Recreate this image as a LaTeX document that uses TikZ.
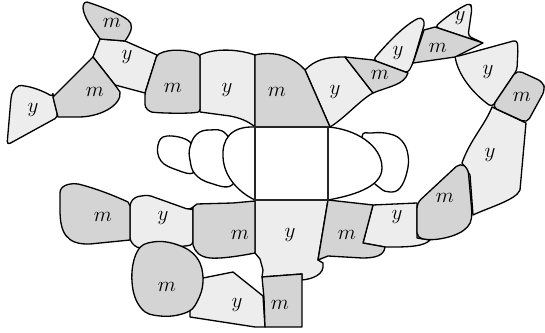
\documentclass[tikz,border=0pt]{standalone}
\usepackage{tikz}
\definecolor{mgray}{HTML}{D4D4D4}
\definecolor{ygray}{HTML}{EDEDED}

\begin{document}
\begin{tikzpicture}[
        x=0.02cm, y=-0.02cm,
        font=\fontsize{11.5}{13}\selectfont,
        part/.style={
            draw=black,
            line width=0.75pt,
            line join=round
        },
        mpart/.style={part, fill=mgray},
        ypart/.style={part, fill=ygray},
        hole/.style={part, fill=white},
        core/.style={draw=black!85, line width=0.8pt, fill=white}
    ]
        \useasboundingbox (0,0) rectangle (545,333);

        % light pieces
        \draw[ypart] (100,39) -- (125,41) -- (157,55) -- (145,93) -- (115,85) -- (93,57) -- cycle;
        \draw[ypart, rounded corners=2pt] (53,97) -- (58,117) -- (7,145) -- (11,98) .. controls (13,89) and (18,85) .. (25,86) .. controls (35,88) and (45,92) .. (53,97) -- cycle;
        \draw[ypart] (200,55) .. controls (212,49) and (235,48) .. (255,55) -- (255,127) .. controls (248,121) and (240,118) .. (230,116) -- (200,112) -- cycle;
        \draw[ypart] (305,70) .. controls (315,60) and (325,57) .. (345,57) -- (373,93) .. controls (360,100) and (345,118) .. (330,127) -- cycle;
        \draw[ypart, rounded corners=2pt] (373,60) .. controls (390,40) and (405,25) .. (421,17) -- (425,22) -- (413,63) -- (408,73) -- cycle;
        \draw[ypart, rounded corners=2pt] (435,27) .. controls (448,15) and (460,8) .. (470,3) -- (472,8) -- (468,36) -- (483,43) -- cycle;
        \draw[ypart, rounded corners=2pt] (455,57) -- (517,40) -- (518,48) -- (517,70) -- (492,107) .. controls (475,95) and (460,78) .. (455,57) -- cycle;
        \draw[ypart] (492,107) -- (526,123) -- (520,190) .. controls (516,200) and (490,207) .. (473,215) -- (470,175) -- (462,163) .. controls (470,140) and (485,125) .. (492,107) -- cycle;
        \draw[ypart] (373,205) -- (417,203) -- (417,238) -- (430,240) .. controls (425,246) and (410,247) .. (395,247) -- (385,247) -- (363,243) -- cycle;
        \draw[ypart] (255,200) -- (328,200) -- (318,260) -- (323,263) .. controls (325,275) and (312,279) .. (302,280) -- (302,274) -- (262,277) -- (263,270) -- (260,259) -- (255,253) -- cycle;
        \draw[ypart] (203,278) -- (233,272) -- (263,296) -- (265,327) -- (255,327) -- (190,317) -- (190,310) -- cycle;
        \draw[ypart, rounded corners=2pt] (130,203) -- (135,197) -- (148,195) -- (190,210) -- (193,207) -- (193,245) -- (177,247) -- (137,248) -- (130,241) -- cycle;

        % dark pieces
        \draw[mpart] (100,39) .. controls (92,28) and (84,18) .. (83,8) .. controls (83,2) and (86,1) .. (90,3) .. controls (105,8) and (120,14) .. (128,20) .. controls (133,24) and (133,30) .. (125,41) -- cycle;
        \draw[mpart] (93,57) -- (115,85) -- (120,92) .. controls (122,105) and (100,118) .. (75,117) -- (58,117) -- (53,97) -- cycle;
        \draw[mpart, rounded corners=1.5pt] (157,55) .. controls (170,48) and (188,50) .. (200,55) -- (200,112) .. controls (185,114) and (160,113) .. (150,112) -- (145,107) -- (145,93) -- cycle;
        \draw[mpart] (255,55) .. controls (272,51) and (292,55) .. (305,70) -- (330,127) -- (255,127) -- cycle;
        \draw[mpart] (345,57) -- (373,60) -- (408,73) .. controls (404,85) and (390,86) .. (373,93) -- cycle;
        \draw[mpart] (424,30) -- (435,27) -- (483,43) -- (455,57) -- (413,63) -- cycle;
        \draw[mpart, rounded corners=3pt] (517,70) -- (543,82) -- (545,90) -- (527,123) -- (492,107) -- cycle;
        \draw[mpart, rounded corners=3pt] (417,203) -- (460,163) -- (468,168) -- (472,213) .. controls (470,232) and (450,238) .. (430,240) -- (417,238) -- cycle;
        \draw[mpart] (328,200) -- (373,205) -- (363,243) -- (385,247) .. controls (384,256) and (375,258) .. (362,258) -- (328,256) -- (318,260) -- cycle;
        \draw[mpart] (262,277) -- (302,274) -- (302,327) -- (265,327) -- (264,298) -- cycle;
        \draw[mpart] plot[smooth cycle, tension=0.7] coordinates {(153,242) (178,245) (197,258) (203,280) (197,302) (185,313) (160,316) (141,308) (132,282) (137,252)};
        \draw[mpart] (128,202) -- (130,206) -- (130,240) -- (90,244) .. controls (66,245) and (60,232) .. (60,210) -- (60,193) .. controls (60,185) and (70,183) .. (78,184) .. controls (95,188) and (115,196) .. (128,202) -- cycle;
        \draw[mpart] (193,207) -- (197,204) -- (233,203) -- (255,201) -- (255,253) .. controls (240,256) and (220,259) .. (210,258) .. controls (200,257) and (195,252) .. (193,245) -- cycle;

        % white lobes round the core
        \draw[hole] plot[smooth cycle, tension=0.7] coordinates {(158,145) (167,136) (190,142) (193,160) (193,173) (177,170) (161,161)};
        \draw[hole] plot[smooth cycle, tension=0.7] coordinates {(190,147) (197,134) (210,130) (226,134) (238,160) (232,185) (210,183) (195,174) (190,160)};
        \draw[hole] (255,127) .. controls (230,126) and (222,140) .. (223,157) .. controls (224,178) and (240,193) .. (255,200) -- cycle;
        \draw[hole] plot[smooth cycle, tension=0.7] coordinates {(362,138) (372,133) (390,134) (402,141) (408,155) (407,172) (400,188) (390,192) (380,188) (370,175)};
        \draw[hole] (328,127) .. controls (355,129) and (382,145) .. (382,168) .. controls (382,188) and (350,196) .. (328,200) -- cycle;
        \draw[core] (255,127) rectangle (328,200);

        % labels
        \foreach \n/\px/\py/\t in {
            ma/112/23/m, yb/127/57/y, mc/95/92/m, yd/33/110/y,
            me/173/88/m, yf/227/90/y, mg/277/92/m, yh/335/92/y,
            mi/380/75/m, yj/398/53/y, mk/438/48/m, yl/460/18/y,
            ym/488/72/y, mn/522/97/m, yo/490/155/y, mp/445/198/m,
            yq/397/217/y, mr/347/235/m, ys/290/235/y, mt/280/305/m,
            yu/237/305/y, mv/167/287/m, mw/103/217/m, yx/163/218/y,
            my/240/235/m} {
            \node (\n) at (\px,\py) {$\t$};
        }
\end{tikzpicture}
\end{document}
